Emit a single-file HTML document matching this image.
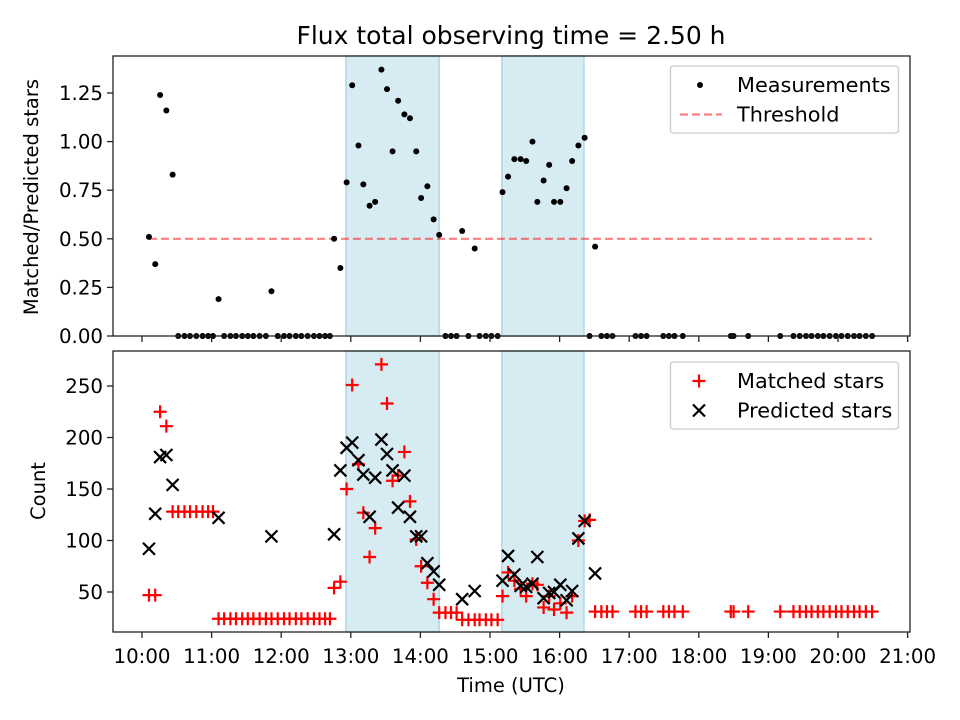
<!DOCTYPE html>
<html><head><meta charset="utf-8"><style>
body{margin:0;background:#fff}
svg{display:block;font-family:"DejaVu Sans","Liberation Sans",sans-serif}
</style></head><body>
<svg id="chart" width="960" height="720" viewBox="0 0 960 720" xmlns="http://www.w3.org/2000/svg">
<rect width="960" height="720" fill="#fff"/>
<text x="511" y="44" font-size="25" text-anchor="middle" fill="#000">Flux total observing time = 2.50 h</text>
<g id="topPanel"></g><g id="botPanel"></g>
<text transform="translate(38,197) rotate(-90)" font-size="19.5" text-anchor="middle">Matched/Predicted stars</text>
<text transform="translate(45,491) rotate(-90)" font-size="19.5" text-anchor="middle">Count</text>
<text x="511" y="692" font-size="19.5" text-anchor="middle">Time (UTC)</text>
</svg>
<script>
const times=[10.10,10.19,10.26,10.35,10.44,10.52,10.61,10.69,10.78,10.87,10.95,11.02,11.10,11.18,11.27,11.35,11.44,11.52,11.60,11.69,11.78,11.86,11.95,12.04,12.12,12.21,12.29,12.38,12.47,12.55,12.63,12.70,12.76,12.85,12.94,13.02,13.11,13.18,13.27,13.35,13.44,13.52,13.60,13.68,13.77,13.85,13.94,14.01,14.10,14.19,14.27,14.36,14.44,14.52,14.60,14.69,14.78,14.85,14.94,15.02,15.11,15.18,15.26,15.35,15.44,15.52,15.61,15.68,15.77,15.85,15.92,16.01,16.10,16.18,16.27,16.36,16.43,16.51,16.60,16.68,16.76,17.09,17.17,17.25,17.49,17.57,17.65,17.77,18.46,18.50,18.71,19.17,19.36,19.45,19.54,19.62,19.71,19.79,19.88,19.97,20.05,20.14,20.23,20.31,20.40,20.49];
const ratio=[0.51,0.37,1.24,1.16,0.83,0,0,0,0,0,0,0,0.19,0,0,0,0,0,0,0,0,0.23,0,0,0,0,0,0,0,0,0,0,0.50,0.35,0.79,1.29,0.98,0.78,0.67,0.69,1.37,1.27,0.95,1.21,1.14,1.12,0.95,0.71,0.77,0.60,0.52,0,0,0,0.54,0,0.45,0,0,0,0,0.74,0.82,0.91,0.91,0.90,1.00,0.69,0.80,0.88,0.69,0.69,0.76,0.90,0.98,1.02,0,0.46,0,0,0,0,0,0,0,0,0,0,0,0,0,0,0,0,0,0,0,0,0,0,0,0,0,0,0,0];
const matched=[47,47,225,211,128,128,128,128,128,128,128,128,24,24,24,24,24,24,24,24,24,24,24,24,24,24,24,24,24,24,24,24,54,60,150,251,174,127,84,112,271,233,158,163,186,138,101,75,59,43,30,30,30,30,23,23,23,23,23,23,23,46,69,61,53,46,58,57,35,46,33,39,30,46,100,119,120,31,31,31,31,31,31,31,31,31,31,31,31,31,31,31,31,31,31,31,31,31,31,31,31,31,31,31,31,31];
const predicted=[92,126,181,183,154,null,null,null,null,null,null,null,122,null,null,null,null,null,null,null,null,104,null,null,null,null,null,null,null,null,null,null,106,168,190,195,178,164,123,161,198,184,168,132,163,123,104,104,78,70,57,null,null,null,43,null,51,null,null,null,null,61,85,67,56,55,58,84,44,49,50,57,42,51,102,119,null,68];
const shades=[[12.93,14.27],[15.17,16.35]];
const threshold=0.5;
const xTicks=[10,11,12,13,14,15,16,17,18,19,20,21];
const topTicks=[0,0.25,0.5,0.75,1.0,1.25];
const botTicks=[50,100,150,200,250];

const NS="http://www.w3.org/2000/svg";
const L=113,R=910,T1=56,B1=336,T2=351,B2=632;
const FS=19.8, LFS=20.8;
const X=h=>142+(h-10)*69.6;
const Y1=v=>336-v*194.4;
const Y2=v=>643.5-v*1.03;
function mk(p,tag,a){const e=document.createElementNS(NS,tag);for(const k in a)e.setAttribute(k,a[k]);p.appendChild(e);return e;}
const gTop=document.getElementById('topPanel'),gBot=document.getElementById('botPanel');

function panel(g,T,B,name){
  shades.forEach(s=>{const r=mk(g,'rect',{x:X(s[0]),y:T,width:X(s[1])-X(s[0]),height:B-T,fill:'#add8e6','fill-opacity':0.5,stroke:'#add8e6','stroke-width':1.5});
  
  });
}
panel(gTop,T1,B1,'top');panel(gBot,T2,B2,'bottom');

const th=mk(gTop,'line',{x1:X(times[0]),x2:X(times[times.length-1]),y1:Y1(threshold),y2:Y1(threshold),stroke:'#ff0000','stroke-opacity':0.5,'stroke-width':2.2,'stroke-dasharray':'8,4'});



times.forEach((t,i)=>{
  const c=mk(gTop,'circle',{cx:X(t),cy:Y1(ratio[i]),r:3,fill:'#000'});
  
  
});
times.forEach((t,i)=>{
  const x=X(t),y=Y2(matched[i]);
  const p=mk(gBot,'path',{d:`M${x-6.5},${y}H${x+6.5}M${x},${y-6.5}V${y+6.5}`,stroke:'#ff0000','stroke-width':2.2});
  
  
});
times.forEach((t,i)=>{
  if(predicted[i]==null)return;
  const x=X(t),y=Y2(predicted[i]);
  const p=mk(gBot,'path',{d:`M${x-6},${y-6}L${x+6},${y+6}M${x-6},${y+6}L${x+6},${y-6}`,stroke:'#000','stroke-width':2.2});
  
  
});

function frame(g,T,B,ticks,Y,fmt,name,labels){
  const f=mk(g,'rect',{x:L,y:T,width:R-L,height:B-T,fill:'none',stroke:'#222','stroke-width':1.3});
  
  
  ticks.forEach(v=>{const y=Y(v);mk(g,'line',{x1:L-6,x2:L,y1:y,y2:y,stroke:'#222','stroke-width':1.3});
    const t=mk(g,'text',{x:L-10,y:y+7,'font-size':FS,'text-anchor':'end'});t.textContent=fmt(v);
    
    });
  xTicks.forEach(h=>{const x=X(h);mk(g,'line',{x1:x,x2:x,y1:B,y2:B+6,stroke:'#222','stroke-width':1.3});
    if(labels){const t=mk(g,'text',{x:x,y:B+31,'font-size':FS,'text-anchor':'middle'});t.textContent=h+':00';
    
    }});
}
frame(gTop,T1,B1,topTicks,Y1,v=>v.toFixed(2),'top',false);
frame(gBot,T2,B2,botTicks,Y2,v=>String(v),'bottom',true);

function legend(g,y0,name,items){
  const b=mk(g,'rect',{x:670.5,y:y0,width:228,height:67,rx:3,fill:'#fff','fill-opacity':0.8,stroke:'#ccc','stroke-width':1.3});
  
  
  items.forEach((it,i)=>{const yy=y0+19+i*29.5;it.draw(yy);
    const t=mk(g,'text',{x:737,y:yy+7,'font-size':LFS});t.textContent=it.label;
    
    });
}
legend(gTop,66,'top-legend',[
 {label:'Measurements',draw:y=>mk(gTop,'circle',{cx:700,cy:y,r:3,fill:'#000'})},
 {label:'Threshold',draw:y=>mk(gTop,'line',{x1:680,x2:722,y1:y,y2:y,stroke:'#ff0000','stroke-opacity':0.5,'stroke-width':2.2,'stroke-dasharray':'8,4'})}]);
legend(gBot,362,'bottom-legend',[
 {label:'Matched stars',draw:y=>mk(gBot,'path',{d:`M692.5,${y}H705.5M699,${y-6.5}V${y+6.5}`,stroke:'#ff0000','stroke-width':2.2})},
 {label:'Predicted stars',draw:y=>mk(gBot,'path',{d:`M693,${y-6}L705,${y+6}M693,${y+6}L705,${y-6}`,stroke:'#000','stroke-width':2.2})}]);
</script>
</body></html>
